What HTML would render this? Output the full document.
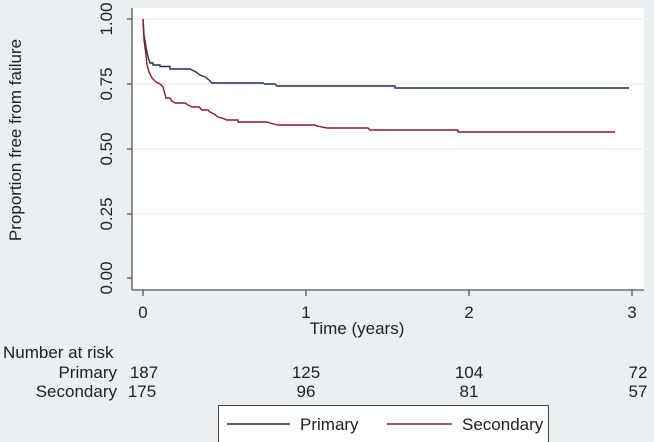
<!DOCTYPE html>
<html><head><style>body{margin:0;background:#eaf0f1}svg{display:block}text{font-family:"Liberation Sans",sans-serif;fill:#222}</style></head><body>
<svg width="654" height="442" viewBox="0 0 654 442">
<rect width="654" height="442" fill="#eaf0f1"/>
<rect x="132" y="8" width="512" height="282" fill="#fff"/>
<g stroke="#e6ecee" stroke-width="1">
<line x1="132" x2="644" y1="19" y2="19"/><line x1="132" x2="644" y1="84" y2="84"/><line x1="132" x2="644" y1="149" y2="149"/><line x1="132" x2="644" y1="214" y2="214"/>
</g>
<g stroke="#555" stroke-width="1.3" fill="none">
<line x1="132" y1="8" x2="132" y2="290"/><line x1="132" y1="290" x2="644" y2="290"/>
<line x1="127" x2="132" y1="19" y2="19"/><line x1="127" x2="132" y1="84" y2="84"/><line x1="127" x2="132" y1="149" y2="149"/><line x1="127" x2="132" y1="214" y2="214"/><line x1="127" x2="132" y1="278" y2="278"/>
<line x1="143" x2="143" y1="290" y2="296"/><line x1="306" x2="306" y1="290" y2="296"/><line x1="469" x2="469" y1="290" y2="296"/><line x1="632" x2="632" y1="290" y2="296"/>
</g>
<g font-size="17" text-anchor="middle">
<text transform="translate(112,19) rotate(-90)">1.00</text>
<text transform="translate(112,84) rotate(-90)">0.75</text>
<text transform="translate(112,149) rotate(-90)">0.50</text>
<text transform="translate(112,214) rotate(-90)">0.25</text>
<text transform="translate(112,278) rotate(-90)">0.00</text>
<text transform="translate(21,140) rotate(-90)">Proportion free from failure</text>
<text x="143" y="318">0</text><text x="306" y="318">1</text><text x="469" y="318">2</text><text x="632" y="318">3</text>
<text x="357" y="334">Time (years)</text>
</g>
<polyline fill="none" stroke="#1f2f55" stroke-width="1.4" points="143,19 144,35 146,47 148,57 150,63 153,63 153,65 160,65 160,66.5 170,66.5 170,69 190,69 192,70 196,72 200,75 205,77 209,80 212,83 263,83 265,84 275,84 277,86 395,86 395,88 629,88"/>
<polyline fill="none" stroke="#8c1c2a" stroke-width="1.4" points="143,19 144,40 146,55 147,65 149,72 152,78 156,82 160,84 163,87 166,98 170,98 172,101 175,103 185,103 188,105 192,107 199,107 202,110 208,110 210,112 214,114 218,117 222,118 227,120 238,120 238,122 267,122 270,123 278,125 315,125 317,126 327,128 368,128 370,130 458,130 458,132 615,132"/>
<g font-size="17">
<text x="3" y="358">Number at risk</text>
<text x="117" y="378" text-anchor="end">Primary</text>
<text x="117" y="397" text-anchor="end">Secondary</text>
<g text-anchor="middle">
<text x="144" y="378">187</text><text x="306" y="378">125</text><text x="469" y="378">104</text><text x="638" y="378">72</text>
<text x="142" y="397">175</text><text x="306" y="397">96</text><text x="469" y="397">81</text><text x="638" y="397">57</text>
</g>
</g>
<rect x="218.5" y="405.5" width="330" height="40" fill="#fff" stroke="#444"/>
<line x1="227" x2="290" y1="424" y2="424" stroke="#1f2f55" stroke-width="1.5"/>
<line x1="387" x2="452" y1="424" y2="424" stroke="#8c1c2a" stroke-width="1.5"/>
<g font-size="17"><text x="300" y="430">Primary</text><text x="462" y="430">Secondary</text></g>
</svg>
</body></html>
